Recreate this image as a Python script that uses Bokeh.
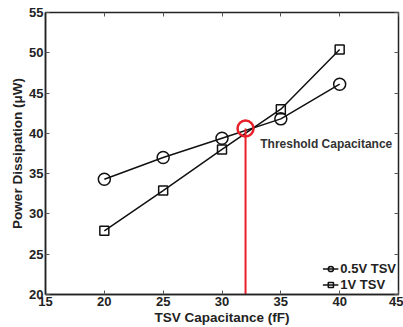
from bokeh.plotting import figure
from bokeh.models import Range1d, FixedTicker, LinearAxis, Label, Legend, LegendItem
from bokeh.embed import file_html
from bokeh.resources import INLINE

cap = [20, 25, 30, 35, 40]
p05 = [34.3, 37.0, 39.4, 41.8, 46.1]
p1 = [27.9, 32.9, 38.0, 43.0, 50.4]
thr_x = 32
thr_y = 40.6
xticks = [15, 20, 25, 30, 35, 40, 45]
yticks = [20, 25, 30, 35, 40, 45, 50, 55]

FONT = "Liberation Sans"

p = figure(width=403, height=327, output_backend="svg", toolbar_location=None,
           x_range=Range1d(15, 45), y_range=Range1d(20, 55),
           min_border_left=45, min_border_right=5, min_border_top=12, min_border_bottom=32)
p.grid.visible = False
p.outline_line_color = "#222222"
p.outline_line_width = 1.5
p.background_fill_color = "white"

for ax in p.xaxis:
    ax.ticker = FixedTicker(ticks=xticks)
for ax in p.yaxis:
    ax.ticker = FixedTicker(ticks=yticks)
for ax in list(p.xaxis) + list(p.yaxis):
    ax.major_tick_in = 4
    ax.major_tick_out = 0
    ax.minor_tick_line_color = None
    ax.axis_line_color = "#222222"
    ax.axis_line_width = 1.5
    ax.major_tick_line_color = "#555555"
    ax.major_label_text_font = FONT
    ax.major_label_text_font_style = "bold"
    ax.major_label_text_font_size = "13px"
    ax.major_label_text_color = "#222222"
    ax.axis_label_text_font = FONT
    ax.axis_label_text_font_style = "bold"
    ax.axis_label_text_color = "#222222"
    ax.major_label_standoff = 2
    ax.axis_label_standoff = 1
p.xaxis.axis_label_text_font_size = "13.5px"
p.yaxis.axis_label_text_font_size = "13.5px"

p.xaxis.axis_label = "TSV Capacitance (fF)"
p.yaxis.axis_label = "Power Dissipation (\u03bcW)"

top = LinearAxis(ticker=FixedTicker(ticks=xticks), major_tick_in=4, major_tick_out=0,
                 minor_tick_line_color=None, major_label_overrides={t: "" for t in xticks},
                 axis_line_color=None, major_tick_line_color="#555555", major_label_standoff=0)
right = LinearAxis(ticker=FixedTicker(ticks=yticks), major_tick_in=4, major_tick_out=0,
                   minor_tick_line_color=None, major_label_overrides={t: "" for t in yticks},
                   axis_line_color=None, major_tick_line_color="#555555", major_label_standoff=0)
p.add_layout(top, "above")
p.add_layout(right, "right")

l1 = p.line(cap, p05, line_color="#111111", line_width=1.5)
m1 = p.scatter(cap, p05, marker="circle", size=12, fill_color=None, line_color="#111111", line_width=1.5)
l2 = p.line(cap, p1, line_color="#111111", line_width=1.5)
m2 = p.scatter(cap, p1, marker="square", size=9, fill_color=None, line_color="#111111", line_width=1.5)

p.segment(x0=[thr_x], y0=[20], x1=[thr_x], y1=[thr_y], line_color="#e8202a", line_width=2)
p.scatter([thr_x], [thr_y], marker="circle", size=16, fill_color=None, line_color="#e8202a", line_width=2.5)

p.add_layout(Label(x=thr_x + 1.25, y=thr_y - 1.1, text="Threshold Capacitance", text_font=FONT,
                   text_font_style="bold", text_font_size="12px", text_color="#333333",
                   text_baseline="top", text_align="left"))
p.add_layout(Label(x=thr_x, y=20, y_offset=-2, text="32", text_font=FONT,
                   text_font_style="bold", text_font_size="13px", text_color="#e8202a",
                   text_baseline="top", text_align="center"))

legend = Legend(items=[LegendItem(label="0.5V TSV", renderers=[l1, m1]),
                       LegendItem(label="1V TSV", renderers=[l2, m2])],
                location="bottom_right", border_line_color=None, background_fill_alpha=0,
                label_text_font=FONT, label_text_font_style="bold", label_text_font_size="13px",
                label_text_color="#222222", glyph_width=16, glyph_height=13, spacing=1,
                padding=1, margin=2, label_standoff=2, label_height=13)
p.add_layout(legend)

open("out.html", "w").write(file_html(p, INLINE))
